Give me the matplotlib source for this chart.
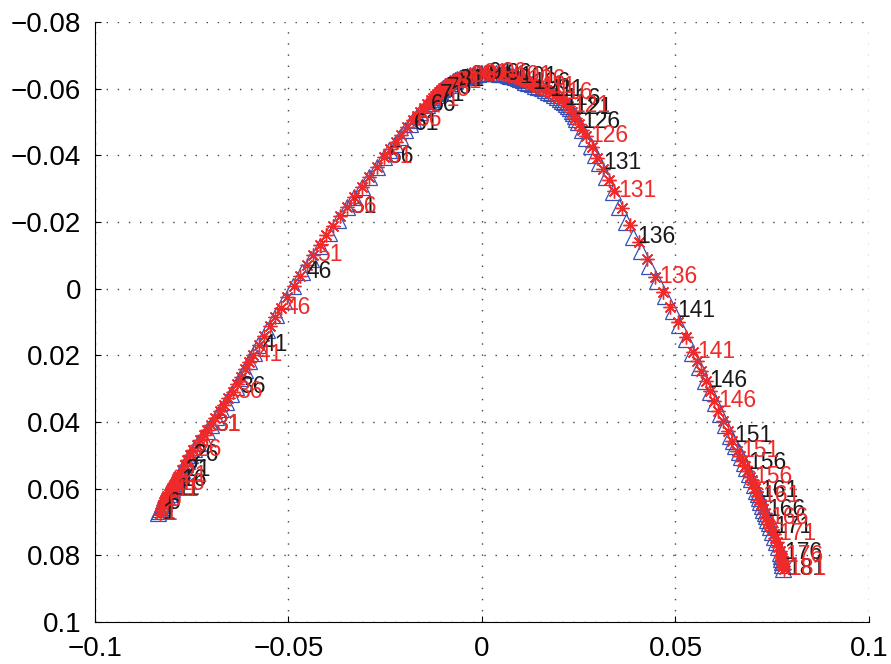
import matplotlib
matplotlib.use('Agg')
from matplotlib import pyplot as plt

# triangle series (black labels)
tri_x = [-0.0837, -0.0834, -0.0831, -0.0828, -0.0825, -0.0822, -0.0818, -0.0813, -0.0809, -0.0805,
         -0.0801, -0.0799, -0.0796, -0.0793, -0.0791, -0.0788, -0.0786, -0.0783, -0.0780, -0.0778,
         -0.0775, -0.0771, -0.0767, -0.0763, -0.0759, -0.0755, -0.0744, -0.0733, -0.0722, -0.0711,
         -0.0700, -0.0687, -0.0674, -0.0662, -0.0649, -0.0636, -0.0624, -0.0613, -0.0602, -0.0590,
         -0.0579, -0.0556, -0.0533, -0.0511, -0.0488, -0.0465, -0.0442, -0.0419, -0.0395, -0.0372,
         -0.0349, -0.0330, -0.0311, -0.0292, -0.0272, -0.0253, -0.0240, -0.0226, -0.0213, -0.0200,
         -0.0186, -0.0177, -0.0169, -0.0160, -0.0151, -0.0142, -0.0138, -0.0133, -0.0128, -0.0124,
         -0.0119, -0.0115, -0.0112, -0.0108, -0.0104, -0.0101, -0.0095, -0.0088, -0.0082, -0.0076,
         -0.0070, -0.0064, -0.0057, -0.0051, -0.0045, -0.0039, -0.0030, -0.0020, -0.0011, -0.0002,
         0.0008, 0.0017, 0.0026, 0.0036, 0.0045, 0.0054, 0.0061, 0.0067, 0.0073, 0.0079,
         0.0085, 0.0092, 0.0099, 0.0105, 0.0112, 0.0119, 0.0128, 0.0136, 0.0145, 0.0154,
         0.0163, 0.0171, 0.0178, 0.0186, 0.0194, 0.0202, 0.0207, 0.0212, 0.0217, 0.0222,
         0.0227, 0.0232, 0.0236, 0.0240, 0.0244, 0.0248, 0.0259, 0.0270, 0.0281, 0.0292,
         0.0302, 0.0320, 0.0338, 0.0355, 0.0373, 0.0390, 0.0411, 0.0432, 0.0452, 0.0473,
         0.0494, 0.0510, 0.0527, 0.0543, 0.0560, 0.0576, 0.0589, 0.0602, 0.0615, 0.0628,
         0.0641, 0.0648, 0.0655, 0.0663, 0.0670, 0.0677, 0.0683, 0.0689, 0.0696, 0.0702,
         0.0708, 0.0712, 0.0715, 0.0719, 0.0723, 0.0726, 0.0730, 0.0733, 0.0737, 0.0741,
         0.0744, 0.0749, 0.0755, 0.0760, 0.0765, 0.0770, 0.0772, 0.0773, 0.0775, 0.0776,
         0.0778]
tri_y = [0.0672, 0.0666, 0.0660, 0.0654, 0.0648, 0.0642, 0.0633, 0.0625, 0.0617, 0.0608,
         0.0600, 0.0594, 0.0589, 0.0584, 0.0578, 0.0573, 0.0567, 0.0561, 0.0555, 0.0549,
         0.0543, 0.0534, 0.0525, 0.0516, 0.0507, 0.0498, 0.0480, 0.0462, 0.0444, 0.0426,
         0.0408, 0.0385, 0.0362, 0.0339, 0.0317, 0.0294, 0.0269, 0.0244, 0.0218, 0.0193,
         0.0168, 0.0124, 0.0080, 0.0037, -0.0007, -0.0051, -0.0090, -0.0129, -0.0168, -0.0207,
         -0.0246, -0.0276, -0.0306, -0.0336, -0.0366, -0.0396, -0.0416, -0.0435, -0.0455, -0.0475,
         -0.0495, -0.0506, -0.0518, -0.0529, -0.0540, -0.0552, -0.0558, -0.0564, -0.0570, -0.0576,
         -0.0582, -0.0586, -0.0590, -0.0594, -0.0599, -0.0603, -0.0608, -0.0612, -0.0617, -0.0622,
         -0.0627, -0.0629, -0.0632, -0.0634, -0.0636, -0.0639, -0.0641, -0.0642, -0.0644, -0.0646,
         -0.0648, -0.0647, -0.0647, -0.0646, -0.0645, -0.0645, -0.0643, -0.0641, -0.0639, -0.0638,
         -0.0636, -0.0632, -0.0629, -0.0625, -0.0621, -0.0618, -0.0614, -0.0609, -0.0605, -0.0601,
         -0.0597, -0.0591, -0.0586, -0.0581, -0.0575, -0.0570, -0.0564, -0.0559, -0.0554, -0.0548,
         -0.0543, -0.0534, -0.0526, -0.0518, -0.0509, -0.0501, -0.0476, -0.0452, -0.0427, -0.0402,
         -0.0378, -0.0334, -0.0289, -0.0245, -0.0200, -0.0156, -0.0112, -0.0067, -0.0023, 0.0022,
         0.0066, 0.0108, 0.0150, 0.0192, 0.0234, 0.0276, 0.0309, 0.0342, 0.0375, 0.0408,
         0.0441, 0.0457, 0.0473, 0.0489, 0.0506, 0.0522, 0.0539, 0.0555, 0.0572, 0.0589,
         0.0606, 0.0617, 0.0629, 0.0640, 0.0651, 0.0663, 0.0673, 0.0683, 0.0693, 0.0704,
         0.0714, 0.0729, 0.0745, 0.0760, 0.0776, 0.0792, 0.0801, 0.0811, 0.0821, 0.0830,
         0.0840]

# asterisk series (red labels)
ast_x = [-0.0832, -0.0829, -0.0827, -0.0824, -0.0822, -0.0819, -0.0816, -0.0813, -0.0810, -0.0807,
         -0.0804, -0.0802, -0.0799, -0.0797, -0.0795, -0.0793, -0.0791, -0.0789, -0.0787, -0.0785,
         -0.0783, -0.0776, -0.0768, -0.0761, -0.0754, -0.0747, -0.0737, -0.0728, -0.0719, -0.0710,
         -0.0700, -0.0689, -0.0678, -0.0666, -0.0655, -0.0643, -0.0633, -0.0623, -0.0612, -0.0602,
         -0.0592, -0.0577, -0.0563, -0.0548, -0.0534, -0.0519, -0.0503, -0.0486, -0.0470, -0.0453,
         -0.0437, -0.0419, -0.0402, -0.0384, -0.0366, -0.0349, -0.0330, -0.0311, -0.0291, -0.0272,
         -0.0253, -0.0238, -0.0223, -0.0208, -0.0193, -0.0178, -0.0169, -0.0160, -0.0150, -0.0141,
         -0.0132, -0.0127, -0.0121, -0.0116, -0.0111, -0.0106, -0.0100, -0.0095, -0.0089, -0.0083,
         -0.0078, -0.0070, -0.0062, -0.0054, -0.0047, -0.0039, -0.0032, -0.0025, -0.0019, -0.0012,
         -0.0005, 0.0004, 0.0013, 0.0023, 0.0032, 0.0041, 0.0048, 0.0054, 0.0060, 0.0066,
         0.0072, 0.0079, 0.0086, 0.0093, 0.0099, 0.0106, 0.0113, 0.0120, 0.0128, 0.0135,
         0.0142, 0.0150, 0.0158, 0.0165, 0.0173, 0.0181, 0.0189, 0.0197, 0.0206, 0.0214,
         0.0222, 0.0232, 0.0241, 0.0250, 0.0259, 0.0269, 0.0283, 0.0298, 0.0312, 0.0327,
         0.0341, 0.0362, 0.0383, 0.0405, 0.0426, 0.0447, 0.0467, 0.0486, 0.0506, 0.0526,
         0.0545, 0.0556, 0.0567, 0.0578, 0.0589, 0.0599, 0.0611, 0.0623, 0.0635, 0.0647,
         0.0659, 0.0666, 0.0672, 0.0679, 0.0686, 0.0693, 0.0697, 0.0701, 0.0705, 0.0709,
         0.0713, 0.0717, 0.0721, 0.0726, 0.0730, 0.0734, 0.0738, 0.0742, 0.0746, 0.0750,
         0.0755, 0.0758, 0.0762, 0.0765, 0.0769, 0.0773, 0.0774, 0.0776, 0.0777, 0.0779,
         0.0780]
ast_y = [0.0675, 0.0666, 0.0658, 0.0649, 0.0641, 0.0633, 0.0627, 0.0621, 0.0615, 0.0609,
         0.0603, 0.0599, 0.0596, 0.0592, 0.0588, 0.0585, 0.0580, 0.0575, 0.0570, 0.0566,
         0.0561, 0.0545, 0.0530, 0.0514, 0.0498, 0.0483, 0.0468, 0.0453, 0.0438, 0.0423,
         0.0408, 0.0388, 0.0368, 0.0348, 0.0329, 0.0309, 0.0287, 0.0264, 0.0242, 0.0220,
         0.0198, 0.0170, 0.0142, 0.0113, 0.0085, 0.0057, 0.0025, -0.0007, -0.0038, -0.0070,
         -0.0102, -0.0131, -0.0160, -0.0188, -0.0217, -0.0246, -0.0276, -0.0306, -0.0336, -0.0366,
         -0.0396, -0.0418, -0.0440, -0.0462, -0.0485, -0.0507, -0.0519, -0.0531, -0.0543, -0.0555,
         -0.0567, -0.0573, -0.0579, -0.0585, -0.0591, -0.0597, -0.0602, -0.0606, -0.0611, -0.0616,
         -0.0621, -0.0624, -0.0628, -0.0632, -0.0635, -0.0639, -0.0640, -0.0641, -0.0643, -0.0644,
         -0.0645, -0.0646, -0.0646, -0.0647, -0.0647, -0.0648, -0.0646, -0.0644, -0.0643, -0.0641,
         -0.0639, -0.0637, -0.0634, -0.0632, -0.0629, -0.0627, -0.0623, -0.0619, -0.0614, -0.0610,
         -0.0606, -0.0602, -0.0599, -0.0595, -0.0592, -0.0588, -0.0580, -0.0572, -0.0565, -0.0557,
         -0.0549, -0.0531, -0.0513, -0.0495, -0.0477, -0.0459, -0.0426, -0.0393, -0.0360, -0.0327,
         -0.0294, -0.0242, -0.0191, -0.0139, -0.0088, -0.0036, 0.0009, 0.0054, 0.0099, 0.0144,
         0.0189, 0.0218, 0.0248, 0.0277, 0.0307, 0.0336, 0.0366, 0.0396, 0.0426, 0.0456,
         0.0486, 0.0502, 0.0517, 0.0533, 0.0548, 0.0564, 0.0575, 0.0587, 0.0598, 0.0610,
         0.0621, 0.0634, 0.0647, 0.0661, 0.0674, 0.0687, 0.0697, 0.0706, 0.0716, 0.0725,
         0.0735, 0.0748, 0.0761, 0.0775, 0.0788, 0.0801, 0.0809, 0.0817, 0.0824, 0.0832,
         0.0840]

x_ticks = [-0.1, -0.05, 0, 0.05, 0.1]
x_ticklabels = ['\u22120.1', '\u22120.05', '0', '0.05', '0.1']
y_ticks = [-0.08, -0.06, -0.04, -0.02, 0, 0.02, 0.04, 0.06, 0.08, 0.1]
y_ticklabels = ['\u22120.08', '\u22120.06', '\u22120.04', '\u22120.02', '0',
                '0.02', '0.04', '0.06', '0.08', '0.1']
label_step = 5

plt.rcParams['font.family'] = ['Liberation Sans', 'DejaVu Sans']

fig = plt.figure(figsize=(8.91, 6.64), dpi=100)
ax = fig.add_axes([0.1066, 0.0633, 0.8687, 0.9036])

ax.plot(tri_x, tri_y, linestyle='none', marker='^', markersize=11,
        markerfacecolor='none', markeredgecolor='#3352b8', markeredgewidth=0.9)
ax.plot(ast_x, ast_y, linestyle='none', marker=(8, 2, 0), markersize=10,
        markeredgecolor='#ee2a2a', markeredgewidth=1.0)

# number every 5th point
for i in range(0, len(tri_x), label_step):
    ax.annotate(str(i + 1), (tri_x[i], tri_y[i]), xytext=(3, 0), textcoords='offset points',
                ha='left', va='center', fontsize=16.5, color='#1a1a1a')
for i in range(0, len(ast_x), label_step):
    ax.annotate(str(i + 1), (ast_x[i], ast_y[i]), xytext=(3, 0), textcoords='offset points',
                ha='left', va='center', fontsize=16.5, color='#ee2a2a')

ax.set_xlim(-0.1, 0.1)
ax.set_ylim(0.1, -0.08)
ax.set_xticks(x_ticks)
ax.set_xticklabels(x_ticklabels)
ax.set_yticks(y_ticks)
ax.set_yticklabels(y_ticklabels)
ax.tick_params(direction='in', length=4, labelsize=20, pad=10)

ax.spines['top'].set_visible(False)
ax.spines['right'].set_visible(False)
ax.grid(True, linestyle=(0, (1, 7)), color='#444444', linewidth=1.0)
ax.set_axisbelow(True)

fig.savefig('out.png', dpi=100)
